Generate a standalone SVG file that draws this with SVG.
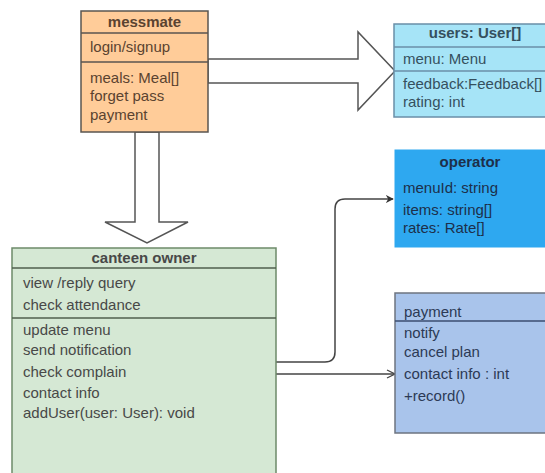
<svg xmlns="http://www.w3.org/2000/svg" width="545" height="473" viewBox="0 0 545 473">
  <defs>
    <style>
      text { font-family: "Liberation Sans", Arial, sans-serif; font-size: 15px; fill: #444444; }
      .title { font-weight: bold; text-anchor: middle; }
      .block { fill: #ffffff; stroke: #555555; stroke-width: 1.5; }
      .conn { fill: none; stroke: #444444; stroke-width: 1.5; }
      #messmate text { fill: #5a4330; }
      #users text { fill: #35505e; }
      #operator text { fill: #1d2f4a; }
      #payment text { fill: #2c3a55; }
      #canteen-owner text { fill: #484848; }
    </style>
    <marker id="filled" viewBox="0 0 10 10" refX="9" refY="5" markerWidth="8" markerHeight="8" orient="auto" markerUnits="userSpaceOnUse">
      <path d="M0,0 L10,5 L0,10 L3,5 Z" fill="#333333"/>
    </marker>
    <marker id="open" viewBox="0 0 10 10" refX="9" refY="5" markerWidth="10" markerHeight="10" orient="auto" markerUnits="userSpaceOnUse">
      <path d="M1,1 L9,5 L1,9" fill="none" stroke="#444444" stroke-width="1.3"/>
    </marker>
  </defs>

  <!-- connectors -->
  <g id="connectors">
    <polygon class="block" points="208,59 358,59 358,32 395,71 358,110 358,83 208,83"/>
    <polygon class="block" points="135,132 135,222 105,222 147,243 188,222 159,222 159,132"/>
    <path class="conn" d="M276,362 L325,362 Q335,362 335,352 L335,209 Q335,199 345,199 L393,199" marker-end="url(#filled)"/>
    <path class="conn" d="M276,374 L395,374" marker-end="url(#open)"/>
  </g>

  <!-- messmate -->
  <g id="messmate">
    <rect x="81" y="11" width="127" height="121" fill="#ffcc99" stroke="#5a5550" stroke-width="1.5"/>
    <line x1="81" y1="33" x2="208" y2="33" stroke="#5a5550" stroke-width="1.5"/>
    <line x1="81" y1="62" x2="208" y2="62" stroke="#5a5550" stroke-width="1.5"/>
    <text class="title" x="144.5" y="27">messmate</text>
    <text x="90" y="52">login/signup</text>
    <text x="90" y="83">meals: Meal[]</text>
    <text x="90" y="101">forget pass</text>
    <text x="90" y="120">payment</text>
  </g>

  <!-- users -->
  <g id="users">
    <rect x="394" y="24" width="170" height="93" fill="#a6e4f7" stroke="#6a8fa8" stroke-width="1.5"/>
    <line x1="394" y1="47" x2="564" y2="47" stroke="#6a8fa8" stroke-width="1.5"/>
    <line x1="394" y1="71" x2="564" y2="71" stroke="#6a8fa8" stroke-width="1.5"/>
    <text class="title" x="475" y="38">users: User[]</text>
    <text x="403" y="64">menu: Menu</text>
    <text x="403" y="89">feedback:Feedback[]</text>
    <text x="403" y="107">rating: int</text>
  </g>

  <!-- operator -->
  <g id="operator">
    <rect x="395" y="150" width="160" height="97" fill="#2ea8f0" stroke="#2ea8f0" stroke-width="1"/>
    <text class="title" x="470" y="167">operator</text>
    <text x="403" y="193">menuId: string</text>
    <text x="403" y="215">items: string[]</text>
    <text x="403" y="233">rates: Rate[]</text>
  </g>

  <!-- payment -->
  <g id="payment">
    <rect x="395" y="293" width="160" height="140" fill="#a9c4eb" stroke="#6d7480" stroke-width="1.5"/>
    <line x1="395" y1="321" x2="555" y2="321" stroke="#3c4e70" stroke-width="1.5"/>
    <text x="404" y="317">payment</text>
    <text x="404" y="338">notify</text>
    <text x="404" y="357">cancel plan</text>
    <text x="404" y="379">contact info : int</text>
    <text x="404" y="401">+record()</text>
  </g>

  <!-- canteen owner -->
  <g id="canteen-owner">
    <rect x="12" y="248" width="264" height="230" fill="#d5e8d4" stroke="#6d8a6a" stroke-width="1.5"/>
    <line x1="12" y1="268" x2="276" y2="268" stroke="#4f5f4e" stroke-width="1.5"/>
    <line x1="12" y1="318" x2="276" y2="318" stroke="#4f5f4e" stroke-width="1.5"/>
    <text class="title" x="144" y="263">canteen owner</text>
    <text x="23" y="288">view /reply query</text>
    <text x="23" y="310">check attendance</text>
    <text x="23" y="335">update menu</text>
    <text x="23" y="355">send notification</text>
    <text x="23" y="377">check complain</text>
    <text x="23" y="398">contact info</text>
    <text x="23" y="418">addUser(user: User): void</text>
  </g>
</svg>
